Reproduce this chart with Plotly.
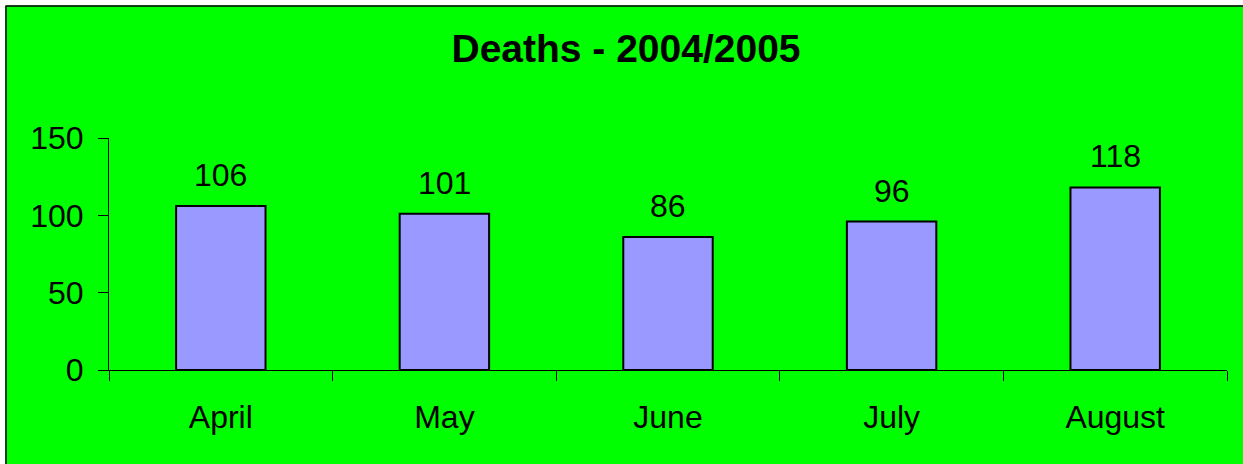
import plotly.graph_objects as go

months = ["April", "May", "June", "July", "August"]
deaths = [106, 101, 86, 96, 118]
y_ticks = [0, 50, 100, 150]
title_text = "Deaths - 2004/2005"

W, H = 1243, 464
L, R, T, B = 109, 16, 138, 94
PW, PH = W - L - R, H - T - B

def xp(px):
    return (px - L) / PW

def yp(py):
    return (H - B - py) / PH

FONT = "Liberation Sans, Arial, sans-serif"
GREEN = "#00FF00"

fig = go.Figure()
fig.add_trace(go.Bar(
    x=months, y=deaths,
    marker=dict(color="#9999FF", line=dict(color="black", width=2)),
    hoverinfo="x+y",
))

for m, v in zip(months, deaths):
    fig.add_annotation(x=m, y=v, text=str(v), showarrow=False,
                       yanchor="bottom", yshift=11,
                       font=dict(family=FONT, size=32, color="black"))

shapes = [
    dict(type="rect", xref="paper", yref="paper", x0=xp(-5), x1=xp(W + 5), y0=yp(5.5), y1=yp(-5),
         fillcolor="white", line=dict(width=0), layer="above"),
    dict(type="rect", xref="paper", yref="paper", x0=xp(-5), x1=xp(5.5), y0=yp(H + 5), y1=yp(-5),
         fillcolor="white", line=dict(width=0), layer="above"),
    dict(type="line", xref="paper", yref="paper", x0=xp(5.5), x1=xp(W + 5), y0=yp(6), y1=yp(6),
         line=dict(color="black", width=1.5), layer="above"),
    dict(type="line", xref="paper", yref="paper", x0=xp(6), x1=xp(6), y0=yp(6), y1=yp(H + 5),
         line=dict(color="black", width=1.5), layer="above"),
]

fig.update_layout(
    width=W, height=H,
    margin=dict(l=L, r=R, t=T, b=B, pad=0),
    paper_bgcolor=GREEN, plot_bgcolor=GREEN,
    bargap=0.6,
    showlegend=False,
    font=dict(family=FONT, size=32, color="black"),
    title=dict(text="<b>" + title_text + "</b>", x=626 / W, xanchor="center",
               y=1 - 48 / H, yanchor="middle", yref="container",
               font=dict(family=FONT, size=39, color="black")),
    xaxis=dict(showline=True, linecolor="black", linewidth=1, ticks="outside",
               tickson="boundaries", ticklen=10, tickcolor="black", tickwidth=1,
               showgrid=False, zeroline=False, tickfont=dict(size=32),
               ticklabelstandoff=19),
    yaxis=dict(range=[0, 150], tickvals=y_ticks, showline=True, linecolor="black", linewidth=1,
               ticks="outside", ticklen=10, tickcolor="black", tickwidth=1,
               showgrid=False, zeroline=False, tickfont=dict(size=32),
               ticklabelstandoff=8),
    shapes=shapes,
)

fig.write_html("out.html",
               config={"displayModeBar": False},
               post_script="document.body.style.margin='0';document.body.style.overflow='hidden';")
